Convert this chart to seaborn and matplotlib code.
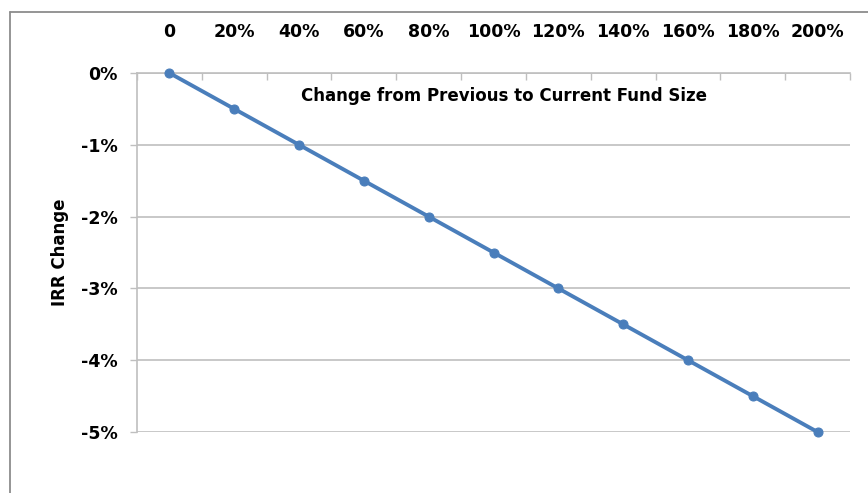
import numpy as np
import pandas as pd
import matplotlib.pyplot as plt
import seaborn as sns
from matplotlib.lines import Line2D

# Chart data
fund_size_change = ["0", "20%", "40%", "60%", "80%", "100%", "120%",
                    "140%", "160%", "180%", "200%"]
irr_change = [0.0, -0.5, -1.0, -1.5, -2.0, -2.5, -3.0, -3.5, -4.0, -4.5, -5.0]
y_ticks = [0, -1, -2, -3, -4, -5]
y_tick_labels = ["0%", "-1%", "-2%", "-3%", "-4%", "-5%"]

df = pd.DataFrame({"pos": np.arange(len(fund_size_change)),
                   "irr": irr_change})

sns.set_style("white")
plt.rcParams["font.family"] = ["DejaVu Sans"]
plt.rcParams["text.color"] = "black"
plt.rcParams["axes.labelcolor"] = "black"
plt.rcParams["xtick.color"] = "black"
plt.rcParams["ytick.color"] = "black"

grid_col = "#BFBFBF"
line_col = "#4A7EBB"
tick_fs = 12.5

fig = plt.figure(figsize=(8.68, 4.93), dpi=100)
ax = fig.add_axes([137 / 868, 1 - 432 / 493, 713 / 868, 359 / 493])

sns.lineplot(data=df, x="pos", y="irr", ax=ax, color=line_col,
             linewidth=2.8, marker="o", markersize=6.5,
             markeredgecolor=line_col, legend=False)
for ln in ax.lines:
    ln.set_clip_on(False)
    ln.set_zorder(5)

ax.set_xlim(-0.5, len(fund_size_change) - 0.5)
ax.set_ylim(-5, 0)

# category axis on top, labels centred, tick marks between categories
ax.xaxis.tick_top()
ax.set_xticks(df["pos"])
ax.set_xticklabels(fund_size_change, fontsize=tick_fs, fontweight="bold")
ax.set_xticks(np.arange(len(fund_size_change) + 1) - 0.5, minor=True)
ax.tick_params(axis="x", which="major", length=0, pad=23)
ax.tick_params(axis="x", which="minor", direction="in", length=5,
               color=grid_col, width=1, top=True, bottom=False)

ax.set_yticks(y_ticks)
ax.set_yticklabels(y_tick_labels, fontsize=tick_fs, fontweight="bold")
ax.tick_params(axis="y", length=5, color=grid_col, width=1, pad=9, left=True)

ax.grid(axis="y", color=grid_col, linewidth=1.2)
ax.grid(axis="x", visible=False)

for side in ["right", "bottom"]:
    ax.spines[side].set_visible(False)
for side in ["left", "top"]:
    ax.spines[side].set_color(grid_col)
    ax.spines[side].set_linewidth(1.2)

ax.set_xlabel("Change from Previous to Current Fund Size",
              fontsize=12, fontweight="bold")
ax.xaxis.set_label_coords(0.515, 0.936)
ax.xaxis.label.set_verticalalignment("center")
ax.set_ylabel("IRR Change", fontsize=12, fontweight="bold")
ax.yaxis.set_label_coords(-0.108, 0.5)
ax.yaxis.label.set_verticalalignment("center")

# outer chart frame (left and top edges visible)
fx = 10 / 868
fy = 1 - 12 / 493
fig.add_artist(Line2D([fx, fx], [0, fy], color="#8C8C8C", linewidth=1.3,
                      transform=fig.transFigure))
fig.add_artist(Line2D([fx, 1], [fy, fy], color="#8C8C8C", linewidth=1.3,
                      transform=fig.transFigure))

fig.savefig("out.png", dpi=100)
